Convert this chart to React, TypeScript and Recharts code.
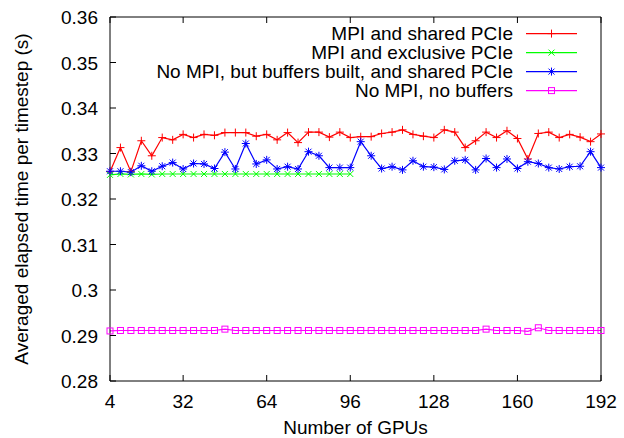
import React from "react"
import { Legend, Line, LineChart, XAxis, YAxis } from "recharts"

const gpus = [
  4, 8, 12, 16, 20, 24, 28, 32, 36, 40, 44, 48, 52, 56, 60, 64, 68, 72, 76, 80, 84, 88, 92, 96,
  100, 104, 108, 112, 116, 120, 124, 128, 132, 136, 140, 144, 148, 152, 156, 160, 164, 168, 172,
  176, 180, 184, 188, 192,
]

const mpiShared = [
  0.326, 0.3313, 0.326, 0.3328, 0.3295, 0.3335, 0.333, 0.3342, 0.3335, 0.3342, 0.334, 0.3346,
  0.3346, 0.3346, 0.3338, 0.3342, 0.333, 0.3346, 0.3324, 0.3347, 0.3347, 0.3336, 0.3347, 0.3335,
  0.3337, 0.3337, 0.3344, 0.3347, 0.3352, 0.3342, 0.3338, 0.3335, 0.3352, 0.3347, 0.3313, 0.3328,
  0.3347, 0.3335, 0.335, 0.3333, 0.3288, 0.3344, 0.3347, 0.3335, 0.3342, 0.3336, 0.3326, 0.3343,
]

const mpiExclusive = [
  0.3253, 0.3255, 0.3254, 0.3255, 0.3254, 0.3255, 0.3255, 0.3255, 0.3255, 0.3255, 0.3255, 0.3255,
  0.3255, 0.3255, 0.3255, 0.3255, 0.3255, 0.3255, 0.3255, 0.3255, 0.3255, 0.3255, 0.3255, 0.3255,
]

const noMpiBuffers = [
  0.3261, 0.3261, 0.3259, 0.3273, 0.3261, 0.3272, 0.328, 0.3266, 0.3278, 0.3277, 0.3267, 0.3303,
  0.3266, 0.3322, 0.3277, 0.3286, 0.3266, 0.3271, 0.3266, 0.3304, 0.3295, 0.3269, 0.3269, 0.3269,
  0.3326, 0.3295, 0.3267, 0.3271, 0.3264, 0.3284, 0.3271, 0.327, 0.3265, 0.3284, 0.3286, 0.3264,
  0.3289, 0.3269, 0.3288, 0.3267, 0.3282, 0.3278, 0.3269, 0.3266, 0.3271, 0.3272, 0.3304, 0.3269,
]

const noMpiNoBuffers = [
  0.291, 0.2911, 0.2911, 0.2911, 0.2911, 0.2911, 0.2911, 0.2911, 0.2911, 0.2911, 0.2911, 0.2914,
  0.2911, 0.2911, 0.2911, 0.2911, 0.2911, 0.2911, 0.2911, 0.2911, 0.2911, 0.2911, 0.2911, 0.2911,
  0.2911, 0.2911, 0.2911, 0.2911, 0.2911, 0.2911, 0.2911, 0.2911, 0.2911, 0.2911, 0.2911, 0.2911,
  0.2914, 0.2911, 0.2911, 0.2911, 0.2909, 0.2917, 0.2911, 0.2911, 0.2911, 0.2911, 0.2911, 0.2911,
]

const xTicks = [4, 32, 64, 96, 128, 160, 192]
const yTicks = [0.28, 0.29, 0.3, 0.31, 0.32, 0.33, 0.34, 0.35, 0.36]

const series = [
  { key: "mpiShared", name: "MPI and shared PCIe", color: "#ff0000", marker: "plus" },
  { key: "mpiExclusive", name: "MPI and exclusive PCIe", color: "#00ff00", marker: "cross" },
  { key: "noMpiBuffers", name: "No MPI, but buffers built, and shared PCIe", color: "#0000ff", marker: "star" },
  { key: "noMpiNoBuffers", name: "No MPI, no buffers", color: "#ff00ff", marker: "square" },
]

const data = gpus.map((g, i) => ({
  gpus: g,
  mpiShared: mpiShared[i],
  mpiExclusive: i < mpiExclusive.length ? mpiExclusive[i] : null,
  noMpiBuffers: noMpiBuffers[i],
  noMpiNoBuffers: noMpiNoBuffers[i],
}))

const FONT = '"Liberation Sans", Arial, sans-serif'
const TICK_LEN = 6

// gnuplot-style point glyphs
const Marker = ({ cx, cy, type, color }: { cx: number; cy: number; type: string; color: string }) => {
  const s = 4
  const d = 3
  if (type === "plus") {
    return (
      <g stroke={color} strokeWidth={1}>
        <line x1={cx - s} x2={cx + s} y1={cy} y2={cy} />
        <line x1={cx} x2={cx} y1={cy - s} y2={cy + s} />
      </g>
    )
  }
  if (type === "cross") {
    return (
      <g stroke={color} strokeWidth={1}>
        <line x1={cx - d} x2={cx + d} y1={cy - d} y2={cy + d} />
        <line x1={cx - d} x2={cx + d} y1={cy + d} y2={cy - d} />
      </g>
    )
  }
  if (type === "star") {
    return (
      <g stroke={color} strokeWidth={1}>
        <line x1={cx - s} x2={cx + s} y1={cy} y2={cy} />
        <line x1={cx} x2={cx} y1={cy - s} y2={cy + s} />
        <line x1={cx - d} x2={cx + d} y1={cy - d} y2={cy + d} />
        <line x1={cx - d} x2={cx + d} y1={cy + d} y2={cy - d} />
      </g>
    )
  }
  return <rect x={cx - 3} y={cy - 3} width={6} height={6} fill="none" stroke={color} strokeWidth={1} />
}

const makeDot = (type: string, color: string) => (props: any) => {
  const { cx, cy, index } = props
  if (cx == null || cy == null || isNaN(cy)) return <g key={`e-${index}`} />
  return (
    <g key={`m-${index}`}>
      <Marker cx={cx} cy={cy} type={type} color={color} />
    </g>
  )
}

const BottomTick = ({ x, y, payload }: any) => (
  <g>
    <line x1={x} x2={x} y1={y} y2={y - TICK_LEN} stroke="#000" />
    <text x={x} y={y + 27} textAnchor="middle" fontSize={19} fontFamily={FONT} fill="#000">
      {payload.value}
    </text>
  </g>
)

const TopTick = ({ x, y }: any) => <line x1={x} x2={x} y1={y} y2={y + TICK_LEN} stroke="#000" />

const LeftTick = ({ x, y, payload }: any) => (
  <g>
    <line x1={x} x2={x + TICK_LEN} y1={y} y2={y} stroke="#000" />
    <text x={x - 12} y={y + 7} textAnchor="end" fontSize={19} fontFamily={FONT} fill="#000">
      {String(Number(payload.value.toFixed(2)))}
    </text>
  </g>
)

const RightTick = ({ x, y }: any) => <line x1={x} x2={x - TICK_LEN} y1={y} y2={y} stroke="#000" />

const LegendBox = () => (
  <div style={{ position: "relative", width: 624, paddingTop: 23.7, fontFamily: FONT, fontSize: 19 }}>
    {series.map((s) => (
      <div key={s.key} style={{ display: "flex", height: 19.2, lineHeight: "19.2px" }}>
        <div style={{ width: 513, textAlign: "right", whiteSpace: "nowrap", color: "#000" }}>{s.name}</div>
        <svg width={51} height={19.2} style={{ marginLeft: 13 }}>
          <line x1={0} x2={51} y1={9.6} y2={9.6} stroke={s.color} strokeWidth={1.2} />
          <Marker cx={25.5} cy={9.6} type={s.marker} color={s.color} />
        </svg>
      </div>
    ))}
  </div>
)

export default function App() {
  return (
    <div style={{ position: "absolute", left: 0, top: 0, background: "#fff" }}>
      <LineChart width={624} height={438} data={data} margin={{ top: 0, right: 0, bottom: 0, left: 0 }}>
        <XAxis
          dataKey="gpus"
          type="number"
          domain={[4, 192]}
          ticks={xTicks}
          interval={0}
          height={57}
          tickSize={0}
          tickMargin={0}
          tick={<BottomTick />}
          axisLine={{ stroke: "#000" }}
          label={{
            content: ({ viewBox }: any) => (
              <text
                x={viewBox.x + viewBox.width / 2}
                y={viewBox.y + 53}
                textAnchor="middle"
                fontSize={19}
                fontFamily={FONT}
                fill="#000"
              >
                Number of GPUs
              </text>
            ),
          }}
        />
        <XAxis
          xAxisId="top"
          orientation="top"
          dataKey="gpus"
          type="number"
          domain={[4, 192]}
          ticks={xTicks}
          interval={0}
          height={17}
          tickSize={0}
          tickMargin={0}
          tick={<TopTick />}
          axisLine={{ stroke: "#000" }}
        />
        <YAxis
          type="number"
          domain={[0.28, 0.36]}
          ticks={yTicks}
          interval={0}
          width={110}
          tickSize={0}
          tickMargin={0}
          tick={<LeftTick />}
          axisLine={{ stroke: "#000" }}
          label={{
            content: ({ viewBox }: any) => {
              const cx = 21
              const cy = viewBox.y + viewBox.height / 2
              return (
                <text
                  x={cx}
                  y={cy}
                  transform={`rotate(-90 ${cx} ${cy})`}
                  textAnchor="middle"
                  dominantBaseline="central"
                  fontSize={19}
                  fontFamily={FONT}
                  fill="#000"
                >
                  Averaged elapsed time per timestep (s)
                </text>
              )
            },
          }}
        />
        <YAxis
          yAxisId="right"
          orientation="right"
          type="number"
          domain={[0.28, 0.36]}
          ticks={yTicks}
          interval={0}
          width={23}
          tickSize={0}
          tickMargin={0}
          tick={<RightTick />}
          axisLine={{ stroke: "#000" }}
        />
        <Legend
          layout="horizontal"
          verticalAlign="middle"
          align="center"
          content={<LegendBox />}
          wrapperStyle={{ top: 0, left: 0, width: 624, height: 110 }}
        />
        {series.map((s) => (
          <Line
            key={s.key}
            dataKey={s.key}
            name={s.name}
            type="linear"
            stroke={s.color}
            strokeWidth={1.2}
            dot={makeDot(s.marker, s.color)}
            activeDot={false}
            connectNulls={false}
            isAnimationActive={false}
          />
        ))}
      </LineChart>
    </div>
  )
}
